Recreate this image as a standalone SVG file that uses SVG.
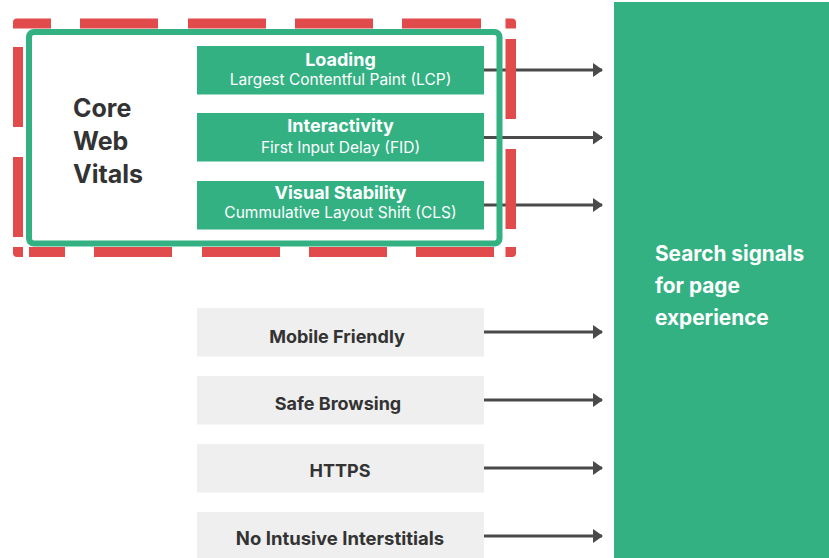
<svg xmlns="http://www.w3.org/2000/svg" width="829" height="558" viewBox="0 0 829 558">
  <style>
    .bg { fill: #ffffff; }
    .metric { fill: #33b183; }
    .signal { fill: #efefef; }
    .dash { fill: #e14b4b; }
    .frame { fill: none; stroke: #33b183; stroke-width: 6; }
    .conn { stroke: #4a4a4a; stroke-width: 3; fill: none; }
    .title { font-family: Inter, "Liberation Sans", sans-serif; font-weight: 700; fill: #ffffff; font-size: 18px; text-anchor: middle; }
    .sub { font-family: Inter, "Liberation Sans", sans-serif; font-weight: 400; fill: #ffffff; font-size: 15.5px; text-anchor: middle; }
    .label { font-family: Inter, "Liberation Sans", sans-serif; font-weight: 700; fill: #333333; font-size: 18px; text-anchor: middle; }
    .big { font-family: Inter, "Liberation Sans", sans-serif; font-weight: 700; fill: #333333; font-size: 25px; }
    .panel-text { font-family: Inter, "Liberation Sans", sans-serif; font-weight: 700; fill: #ffffff; font-size: 20.8px; }
  </style>
  <defs>
    <marker id="arrow" viewBox="0 0 10 14" refX="9" refY="7" markerWidth="10" markerHeight="14" markerUnits="userSpaceOnUse" orient="auto">
      <path d="M0,0 L10,7 L0,14 Z" fill="#4a4a4a"/>
    </marker>
  </defs>

  <rect class="bg" x="0" y="0" width="829" height="558"/>

  <!-- target panel -->
  <g id="page-experience">
    <rect class="metric" x="614" y="2" width="215" height="556"/>
    <text class="panel-text" x="655" y="261">Search signals</text>
    <text class="panel-text" x="655" y="293">for page</text>
    <text class="panel-text" x="655" y="325">experience</text>
  </g>

  <!-- connectors -->
  <g id="connectors">
    <line class="conn" x1="484" y1="70" x2="602" y2="70" marker-end="url(#arrow)"/>
    <line class="conn" x1="484" y1="137.5" x2="602" y2="137.5" marker-end="url(#arrow)"/>
    <line class="conn" x1="484" y1="205" x2="602" y2="205" marker-end="url(#arrow)"/>
    <line class="conn" x1="484" y1="332" x2="602" y2="332" marker-end="url(#arrow)"/>
    <line class="conn" x1="484" y1="400" x2="602" y2="400" marker-end="url(#arrow)"/>
    <line class="conn" x1="484" y1="468" x2="602" y2="468" marker-end="url(#arrow)"/>
    <line class="conn" x1="484" y1="536" x2="602" y2="536" marker-end="url(#arrow)"/>
  </g>

  <!-- dashed highlight around the core web vitals group -->
  <g id="highlight">
    <!-- top edge -->
    <path class="dash" d="M13,28.5 V22 Q13,18.5 17,18.5 H51 V28.5 Z"/>
    <rect class="dash" x="80" y="18.5" width="78" height="10"/>
    <rect class="dash" x="188" y="18.5" width="78" height="10"/>
    <rect class="dash" x="295" y="18.5" width="78" height="10"/>
    <rect class="dash" x="402" y="18.5" width="79" height="10"/>
    <path class="dash" d="M505.5,18.5 H512 Q516,18.5 516,22.5 V28.5 H505.5 Z"/>
    <!-- right edge -->
    <rect class="dash" x="505.5" y="39" width="10.5" height="80"/>
    <rect class="dash" x="505.5" y="149" width="10.5" height="80"/>
    <path class="dash" d="M505.5,247 H516 V253 Q516,257 512,257 H505.5 Z"/>
    <!-- left edge -->
    <rect class="dash" x="13" y="47" width="10" height="80"/>
    <rect class="dash" x="13" y="157" width="10" height="80"/>
    <path class="dash" d="M13,247 H23 V257 H17 Q13,257 13,253 Z"/>
    <!-- bottom edge -->
    <rect class="dash" x="29" y="247" width="36" height="10"/>
    <rect class="dash" x="94" y="247" width="78" height="10"/>
    <rect class="dash" x="202" y="247" width="78" height="10"/>
    <rect class="dash" x="309" y="247" width="78" height="10"/>
    <rect class="dash" x="416" y="247" width="78" height="10"/>
  </g>

  <!-- core web vitals container -->
  <g id="core-web-vitals">
    <rect class="frame" x="29" y="32" width="470.5" height="211.5" rx="5"/>
    <text class="big" x="73" y="116.5">Core</text>
    <text class="big" x="73" y="149.5">Web</text>
    <text class="big" x="73" y="182.5">Vitals</text>
  </g>

  <g id="loading">
    <rect class="metric" x="197" y="46" width="287" height="48.5"/>
    <text class="title" x="340.5" y="66">Loading</text>
    <text class="sub" x="340.5" y="85">Largest Contentful Paint (LCP)</text>
  </g>

  <g id="interactivity">
    <rect class="metric" x="197" y="113" width="287" height="48.5"/>
    <text class="title" x="340.5" y="132">Interactivity</text>
    <text class="sub" x="340.5" y="153">First Input Delay (FID)</text>
  </g>

  <g id="visual-stability">
    <rect class="metric" x="197" y="181" width="287" height="48.5"/>
    <text class="title" x="340.5" y="199">Visual Stability</text>
    <text class="sub" x="340.5" y="218">Cummulative Layout Shift (CLS)</text>
  </g>

  <!-- other page experience signals -->
  <g id="mobile-friendly">
    <rect class="signal" x="197" y="308" width="287" height="48.5"/>
    <text class="label" x="337" y="342.5">Mobile Friendly</text>
  </g>

  <g id="safe-browsing">
    <rect class="signal" x="197" y="376" width="287" height="48.5"/>
    <text class="label" x="338" y="410">Safe Browsing</text>
  </g>

  <g id="https">
    <rect class="signal" x="197" y="444" width="287" height="48.5"/>
    <text class="label" x="340" y="476.5">HTTPS</text>
  </g>

  <g id="no-intrusive-interstitials">
    <rect class="signal" x="197" y="512" width="287" height="46"/>
    <text class="label" x="340" y="545" style="font-size:18.5px">No Intusive Interstitials</text>
  </g>
</svg>
